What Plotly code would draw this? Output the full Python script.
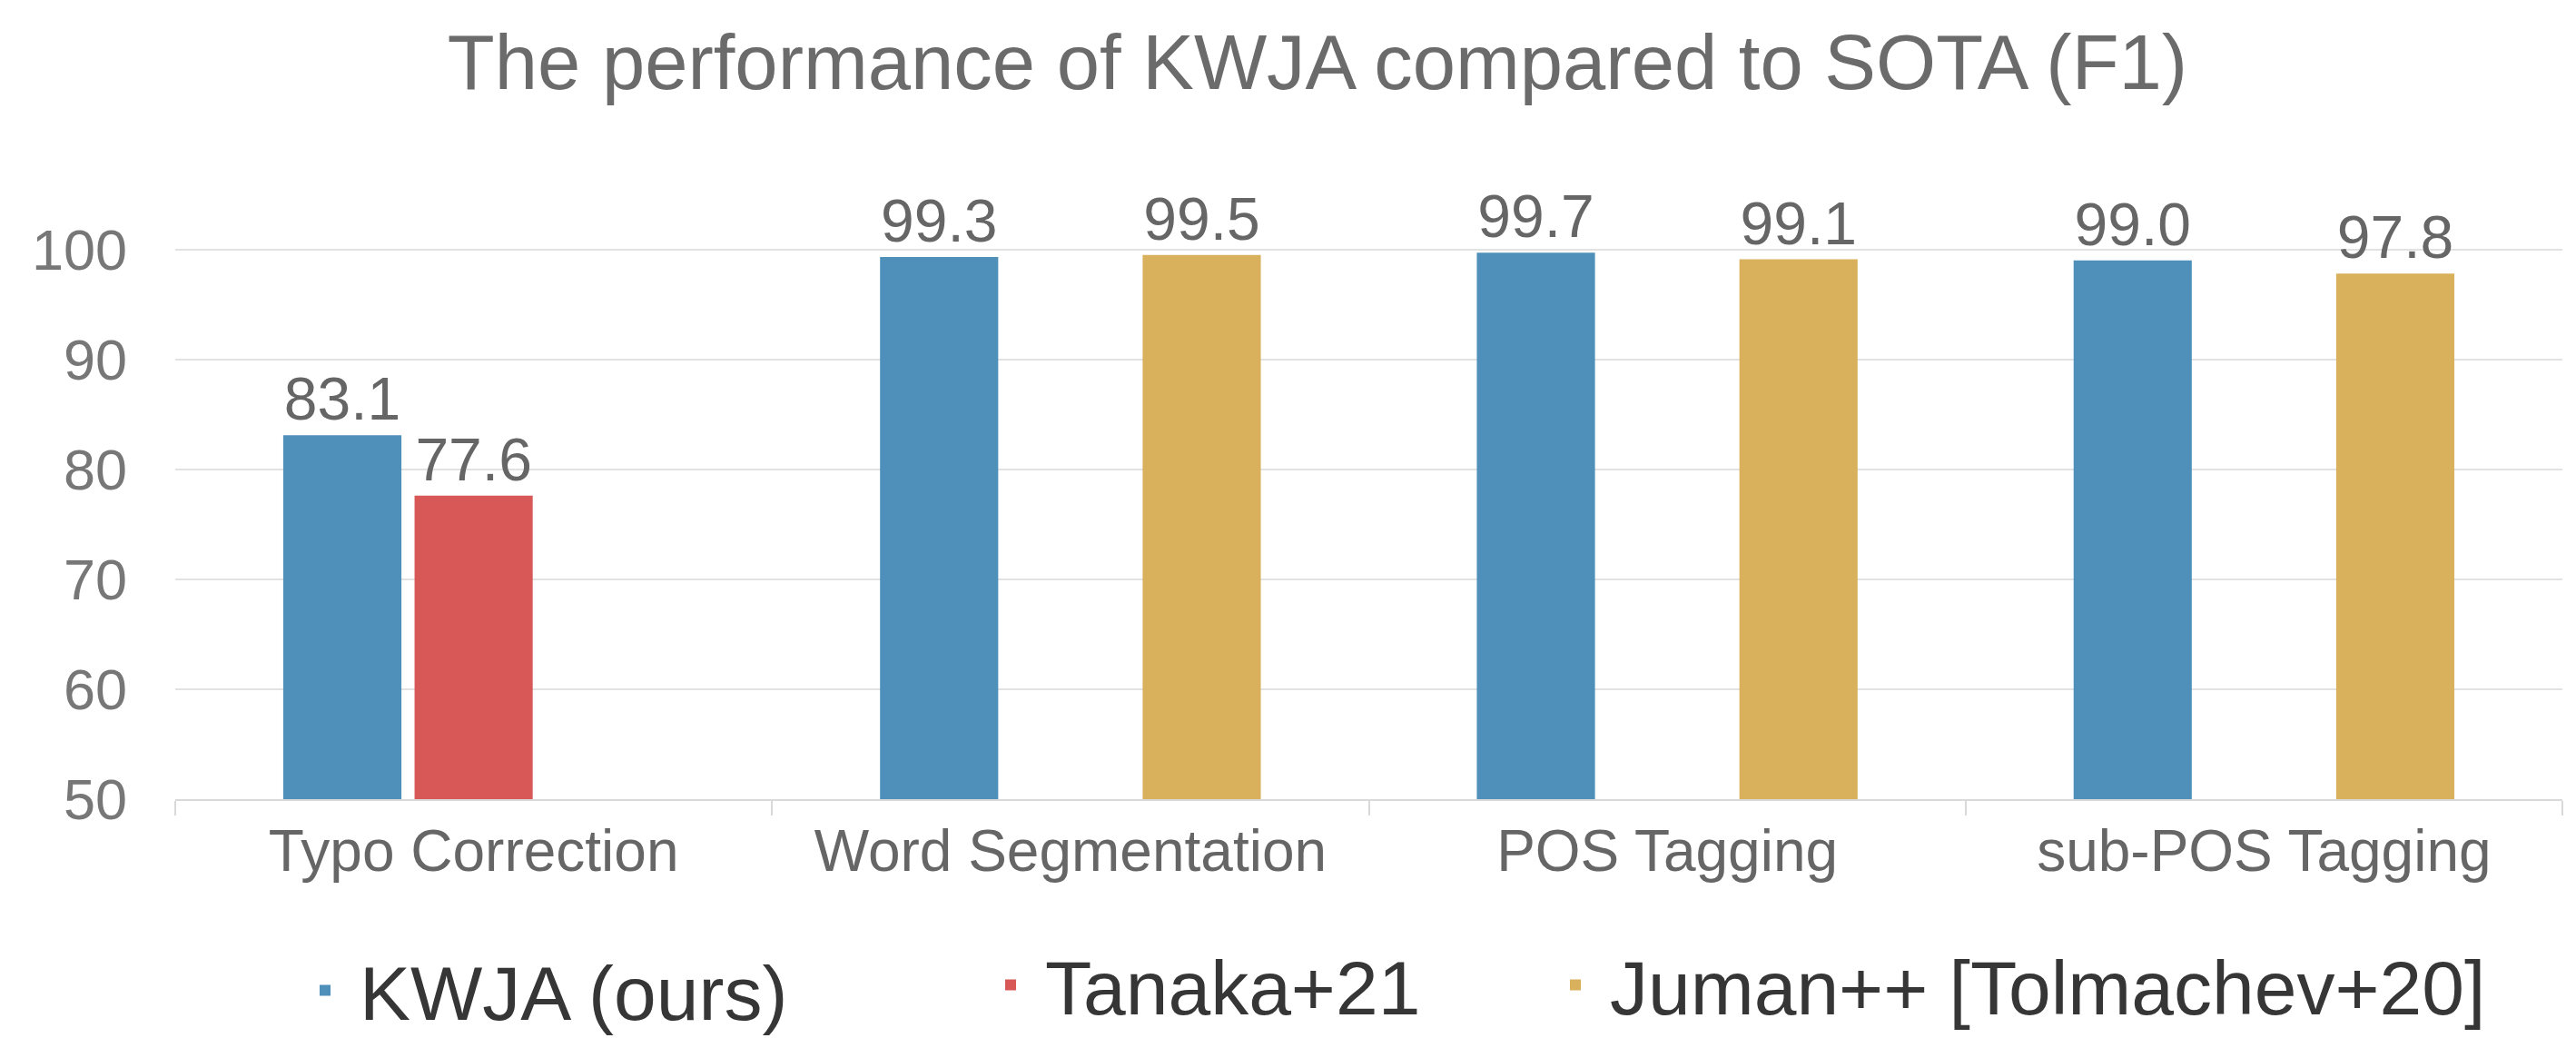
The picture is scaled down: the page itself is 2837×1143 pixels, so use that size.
import plotly.graph_objects as go

# ---- data ----
categories = ["Typo Correction", "Word Segmentation", "POS Tagging", "sub-POS Tagging"]
kwja = [83.1, 99.3, 99.7, 99.0]
tanaka = [77.6, None, None, None]
juman = [None, 99.5, 99.1, 97.8]
series_names = ["KWJA (ours)", "Tanaka+21", "Juman++ [Tolmachev+20]"]
y_ticks = [50, 60, 70, 80, 90, 100]

colors = ["#4f90bb", "#d85858", "#d9b05c"]
FONT = "Liberation Sans, Arial, Helvetica, sans-serif"

# page body has an 8px default margin: figure is sized/offset to compensate
OFF = 8
W, H = 2837 - OFF, 1143 - OFF

fig = go.Figure()
for name, vals, col, leg in zip(series_names, [kwja, tanaka, juman], colors,
                                ["legend", "legend2", "legend3"]):
    fig.add_trace(go.Bar(
        x=categories, y=vals, name=name,
        marker=dict(color=col, line=dict(width=34, color="rgba(0,0,0,0)")),
        texttemplate="%{y:.1f}", textposition="outside",
        textfont=dict(family=FONT, size=66, color="#666666"),
        constraintext="none", cliponaxis=False,
        legend=leg,
    ))

leg_common = dict(orientation="h", xref="container", yref="container",
                  xanchor="left", yanchor="middle", itemwidth=66,
                  font=dict(family=FONT, size=84, color="#363636"),
                  bgcolor="rgba(0,0,0,0)")

def cx(px):
    return (px - OFF) / W

def cy(py):
    return 1 - (py - OFF) / H

fig.update_layout(
    width=W, height=H, autosize=False, showlegend=True,
    paper_bgcolor="white", plot_bgcolor="white",
    margin=dict(l=193 - OFF, r=15, t=271 - OFF, b=263, autoexpand=False),
    barmode="group", bargap=0.34, bargroupgap=0.1,
    title=dict(text="The performance of KWJA compared to SOTA (F1)",
               x=cx(1451), xanchor="center", xref="container",
               y=cy(68), yanchor="middle", yref="container",
               font=dict(family=FONT, size=85, color="#6b6b6b")),
    legend=dict(x=cx(320), y=cy(1091), **leg_common),
    legend2=dict(x=cx(1075), y=cy(1085), **leg_common),
    legend3=dict(x=cx(1697), y=cy(1085), **leg_common),
    xaxis=dict(
        showline=True, linecolor="#d9d9d9", linewidth=2,
        ticks="outside", tickson="boundaries", ticklen=16, tickwidth=2,
        tickcolor="#d9d9d9", showgrid=False,
        tickfont=dict(family=FONT, size=64, color="#666666"),
    ),
    yaxis=dict(
        range=[50, 100.3], tickvals=y_ticks,
        showgrid=True, gridcolor="#e2e2e2", gridwidth=2,
        showline=False, zeroline=False, ticks="",
        ticklabelstandoff=52,
        tickfont=dict(family=FONT, size=63, color="#777777"),
    ),
)

fig.write_html("out.html")
